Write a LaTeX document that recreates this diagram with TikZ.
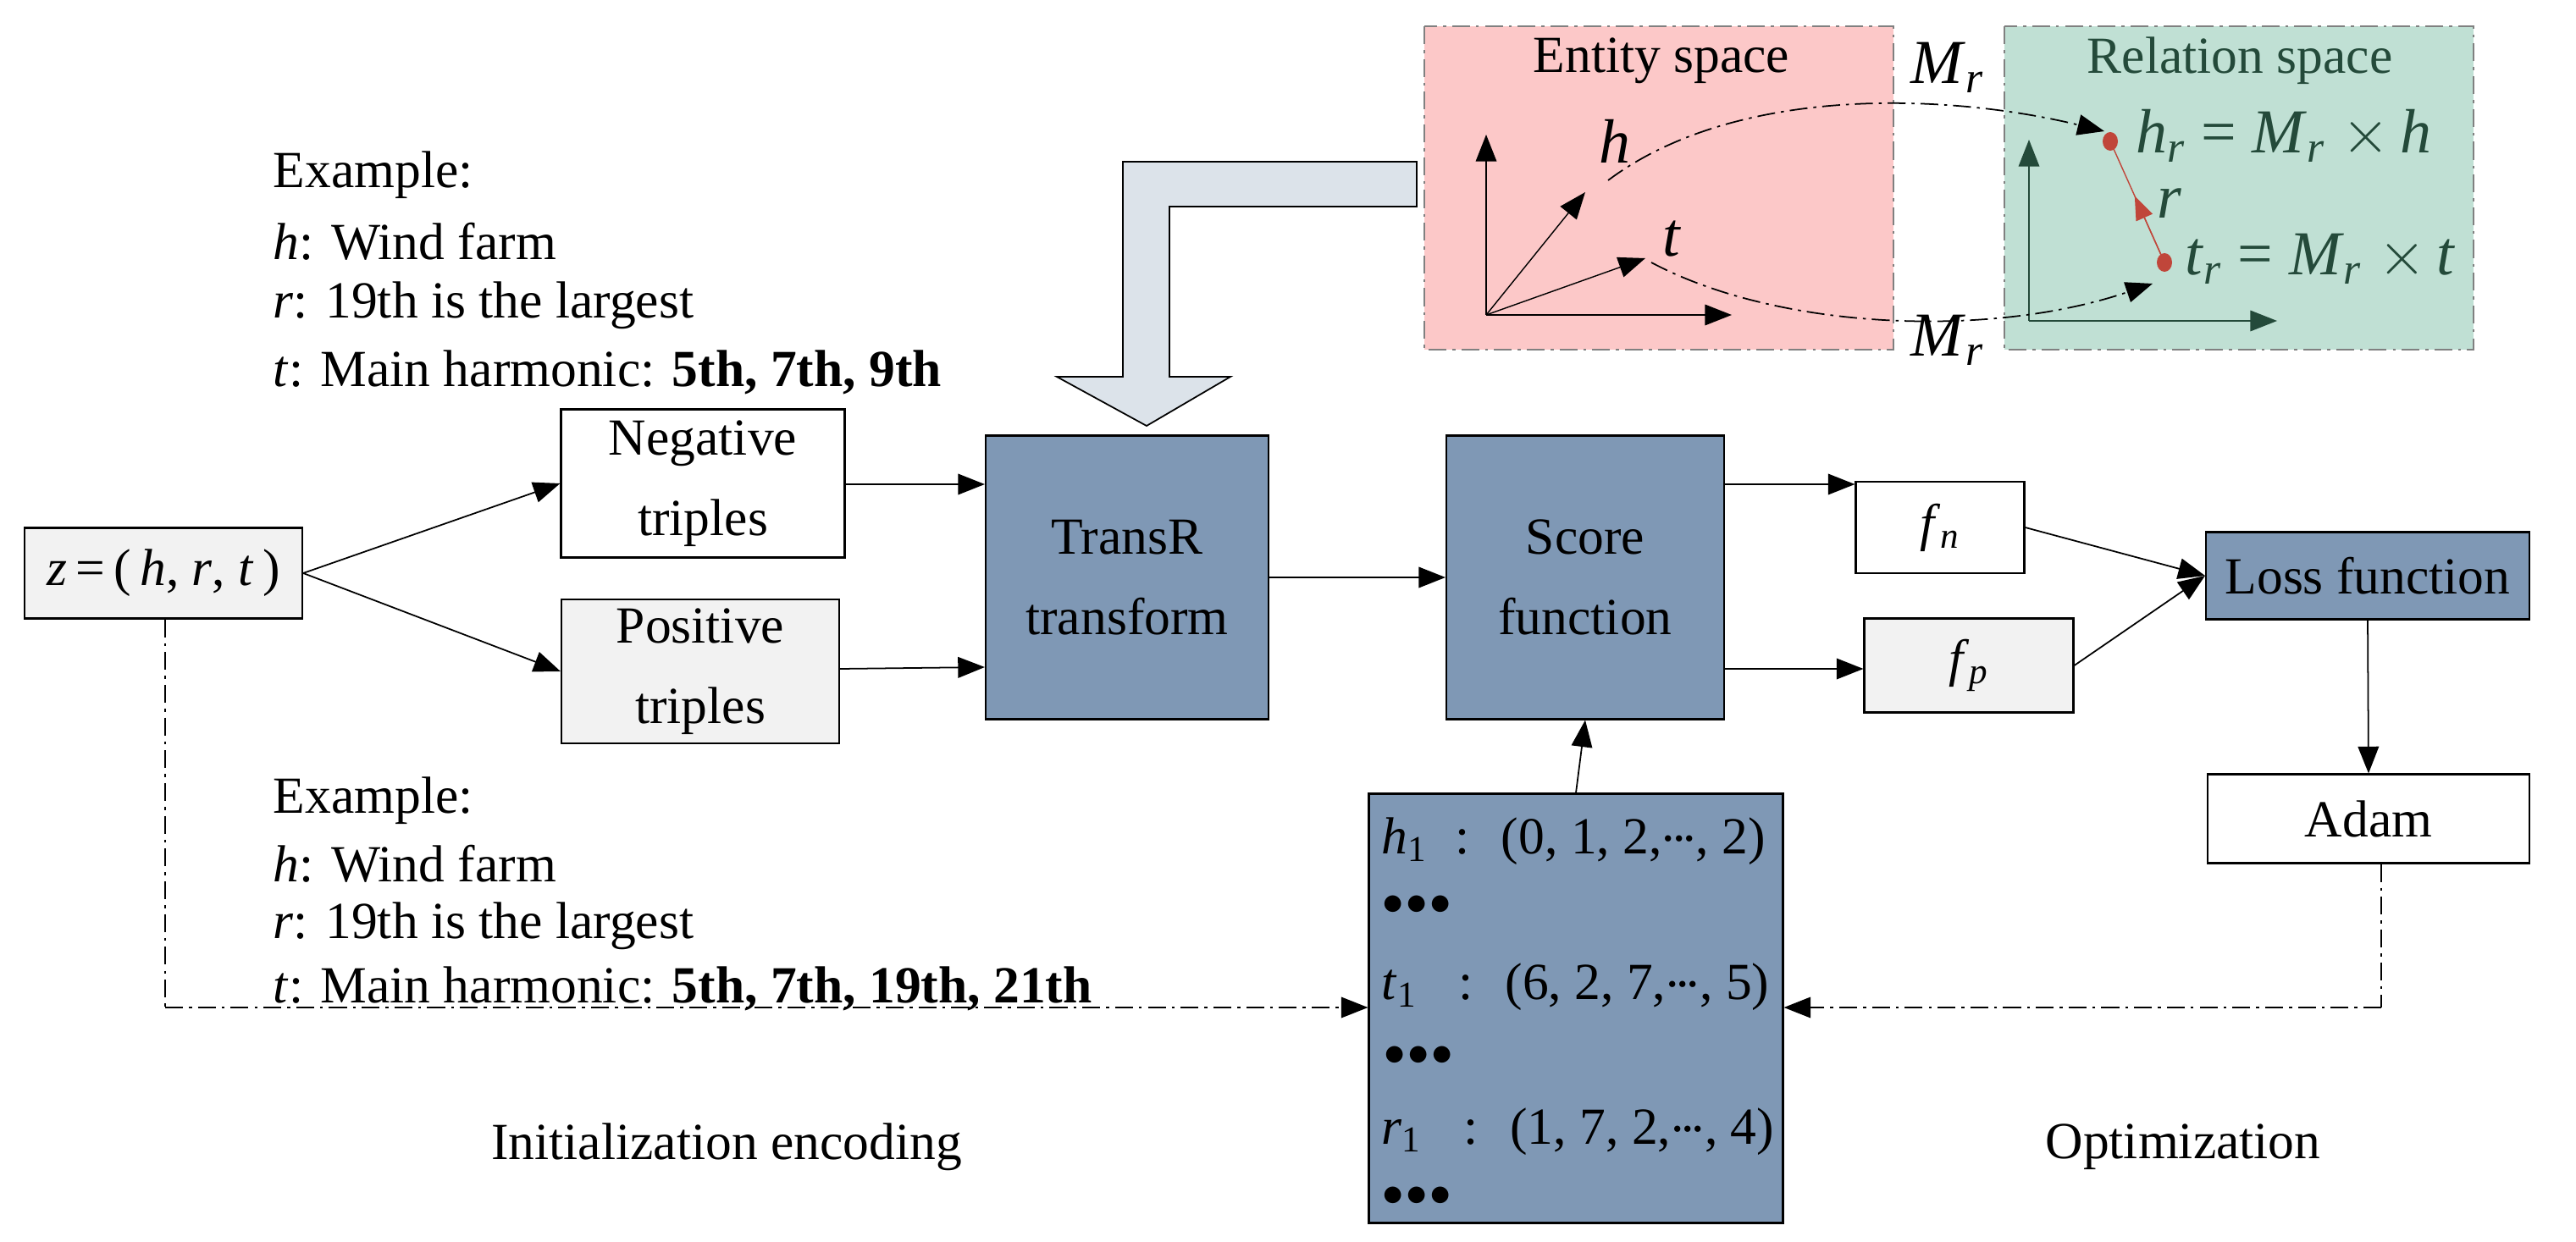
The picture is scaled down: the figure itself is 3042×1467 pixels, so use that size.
\documentclass[tikz,border=0pt]{standalone}
\usepackage{fontspec}
\setmainfont{Liberation Serif}
\usetikzlibrary{arrows.meta,calc}
\definecolor{bl}{HTML}{7F98B5}
\definecolor{lg}{HTML}{F2F2F2}
\definecolor{pk}{HTML}{FCC8C8}
\definecolor{gr}{HTML}{C0E0D4}
\definecolor{dg}{HTML}{244A3A}
\definecolor{rd}{HTML}{C0463A}
\definecolor{ar}{HTML}{DCE3EA}
\newcommand{\iv}[1]{\textit{#1}}
\newcommand{\sbs}[2]{\textit{#1}\textsubscript{\textit{#2}}}
\newcommand{\sbn}[2]{\textit{#1}\textsubscript{#2}}
\newcommand{\cdt}{\raisebox{0.25em}{.\kern-0.05em.\kern-0.05em.}}
\begin{document}
\begin{tikzpicture}[x=0.01cm,y=-0.01cm,
 font=\fontsize{17.5}{21}\selectfont,
 box/.style={draw,line width=0.6pt,minimum width=#1,inner sep=0pt,align=center},
 con/.style={-{Triangle[length=9pt,width=7pt]},line width=0.5pt},
 dd/.style={dash pattern=on 6pt off 2pt on 1pt off 2pt,line width=0.5pt},
 txt/.style={anchor=west,inner sep=0pt},
 big/.style={font=\fontsize{21}{25}\selectfont}]
\useasboundingbox (0,0) rectangle (3042,1467);
% boxes
\node[box=328*0.01cm,fill=lg,minimum height=107*0.01cm] (z) at (193,677) {\iv{z}\,=\,(\,\iv{h}, \iv{r}, \iv{t}\,)};
\node[box=335*0.01cm,fill=white,minimum height=175*0.01cm] (neg) at (830,571) {Negative\\[6pt]triples};
\node[box=328*0.01cm,fill=lg,minimum height=170*0.01cm] (pos) at (827,793) {Positive\\[6pt]triples};
\node[box=334*0.01cm,fill=bl,minimum height=335*0.01cm] (tr) at (1331,682) {TransR\\[6pt]transform};
\node[box=328*0.01cm,fill=bl,minimum height=335*0.01cm] (sf) at (1872,682) {Score\\[6pt]function};
\node[box=199*0.01cm,fill=white,minimum height=108*0.01cm] (fn) at (2291,623) {\sbs{f}{n}};
\node[box=247*0.01cm,fill=lg,minimum height=111*0.01cm] (fp) at (2325,786) {\sbs{f}{p}};
\node[box=382*0.01cm,fill=bl,minimum height=103*0.01cm] (loss) at (2796,680) {Loss function};
\node[box=380*0.01cm,fill=white,minimum height=105*0.01cm] (adam) at (2797,967) {Adam};
\node[box=489*0.01cm,fill=bl,minimum height=507*0.01cm] (emb) at (1861,1191) {};
% embedding text
\node[txt] (e1) at (1631,994) {\sbn{h}{1}\; :\; (0, 1, 2,\cdt, 2)};
\node[txt] (e2) at (1632,1069) {\Large$\bullet\!\bullet\!\bullet$};
\node[txt] (e3) at (1631,1166) {\sbn{t}{1}\;\; :\; (6, 2, 7,\cdt, 5)};
\node[txt] (e4) at (1634,1247) {\Large$\bullet\!\bullet\!\bullet$};
\node[txt] (e5) at (1631,1337) {\sbn{r}{1}\;\; :\; (1, 7, 2,\cdt, 4)};
\node[txt] (e6) at (1632,1413) {\Large$\bullet\!\bullet\!\bullet$};
% connectors
\draw[con] (z.east) -- (neg.west);
\draw[con] (z.east) -- (pos.west);
\draw[con] (neg.east|-0,572) -- (tr.west|-0,572);
\draw[con] (pos.east|-0,790) -- (tr.west|-0,788);
\draw[con] (tr.east) -- (sf.west);
\draw[con] (sf.east|-0,572) -- (fn.west|-0,572);
\draw[con] (sf.east|-0,790) -- (fp.west|-0,790);
\draw[con] (fn.east) -- (loss.west);
\draw[con] (fp.east) -- (loss.west);
\draw[con] (loss.south) -- (adam.north);
\draw[con] (emb.north) -- (sf.south);
\coordinate (zl) at (195,1190);
\coordinate (al) at (2812,1190);
\draw[dd] (z.south-|zl) -- (zl);
\draw[dd,-{Triangle[length=9pt,width=7pt]}] (zl) -- (emb.west|-zl);
\draw[dd] (adam.south-|al) -- (al);
\draw[dd,-{Triangle[length=9pt,width=7pt]}] (al) -- (emb.east|-al);
% examples
\node[txt] (x1) at (322,207) {Example:};
\node[txt] (x2) at (322,285) {\iv{h}: Wind farm};
\node[txt] (x3) at (322,361) {\iv{r}: 19th is the largest};
\node[txt] (x4) at (322,440) {\iv{t}: Main harmonic: \textbf{5th, 7th, 9th}};
\node[txt] (y1) at (322,946) {Example:};
\node[txt] (y2) at (322,1020) {\iv{h}: Wind farm};
\node[txt] (y3) at (322,1094) {\iv{r}: 19th is the largest};
\node[txt] (y4) at (322,1168) {\iv{t}: Main harmonic: \textbf{5th, 7th, 19th, 21th}};
\node (ie) at (858,1355) {Initialization encoding};
\node (op) at (2578,1355) {Optimization};
% big hollow arrow
\draw[fill=ar,line width=0.5pt] (1673,191) -- (1673,244) -- (1381,244) -- (1381,445) -- (1453,445) -- (1354,503) -- (1248,445) -- (1326,445) -- (1326,191) -- cycle;
% spaces
\draw[dd,fill=pk,draw=gray] (1682,31) rectangle (2236,413);
\draw[dd,fill=gr,draw=gray] (2367,31) rectangle (2921,413);
\node (es) at (1962,72) {Entity space};
\node[text=dg] (rs) at (2645,72) {Relation space};
\node[big] (m1) at (2300,80) {\sbs{M}{r}};
\node[big] (m2) at (2300,402) {\sbs{M}{r}};
% entity axes
\coordinate (o1) at (1755,372);
\draw[-{Triangle[length=9pt,width=7pt]},line width=0.4pt] (o1) -- (1755,159);
\draw[-{Triangle[length=9pt,width=7pt]},line width=0.4pt] (o1) -- (2045,372);
\draw[-{Triangle[length=9pt,width=7pt]},line width=0.4pt] (o1) -- (1872,227);
\draw[-{Triangle[length=9pt,width=7pt]},line width=0.4pt] (o1) -- (1943,305);
\node[big] (lh) at (1907,167) {\iv{h}};
\node[big] (lt) at (1974,282) {\iv{t}};
% relation axes
\coordinate (o2) at (2396,379);
\draw[dg,-{Triangle[length=9pt,width=7pt]},line width=0.4pt] (o2) -- (2396,165);
\draw[dg,-{Triangle[length=9pt,width=7pt]},line width=0.4pt] (o2) -- (2689,379);
\coordinate (hr) at (2492,167);
\coordinate (trr) at (2556,310);
\draw[rd,line width=0.4pt] (hr) -- (trr);
\draw[rd,-{Triangle[length=8pt,width=6pt]},line width=0.4pt] (trr) -- ($(trr)!0.55!(hr)$);
\fill[rd] (hr) ellipse (9 and 11);
\fill[rd] (trr) ellipse (9 and 11);
\node[big,text=dg] (lr) at (2562,240) {\iv{r}};
\node[big,text=dg,anchor=west] (hre) at (2510,160) {\sbs{h}{r} = \sbs{M}{r} $\times$\,\iv{h}};
\node[big,text=dg,anchor=west] (tre) at (2568,306) {\sbs{t}{r} = \sbs{M}{r} $\times$\,\iv{t}};
% mapping curves
\draw[dd,-{Triangle[length=9pt,width=7pt]}] (1899,213) .. controls (2050,100) and (2300,110) .. (2485,155);
\draw[dd,-{Triangle[length=9pt,width=7pt]}] (1950,310) .. controls (2100,390) and (2350,400) .. (2542,335);
\end{tikzpicture}
\end{document}
